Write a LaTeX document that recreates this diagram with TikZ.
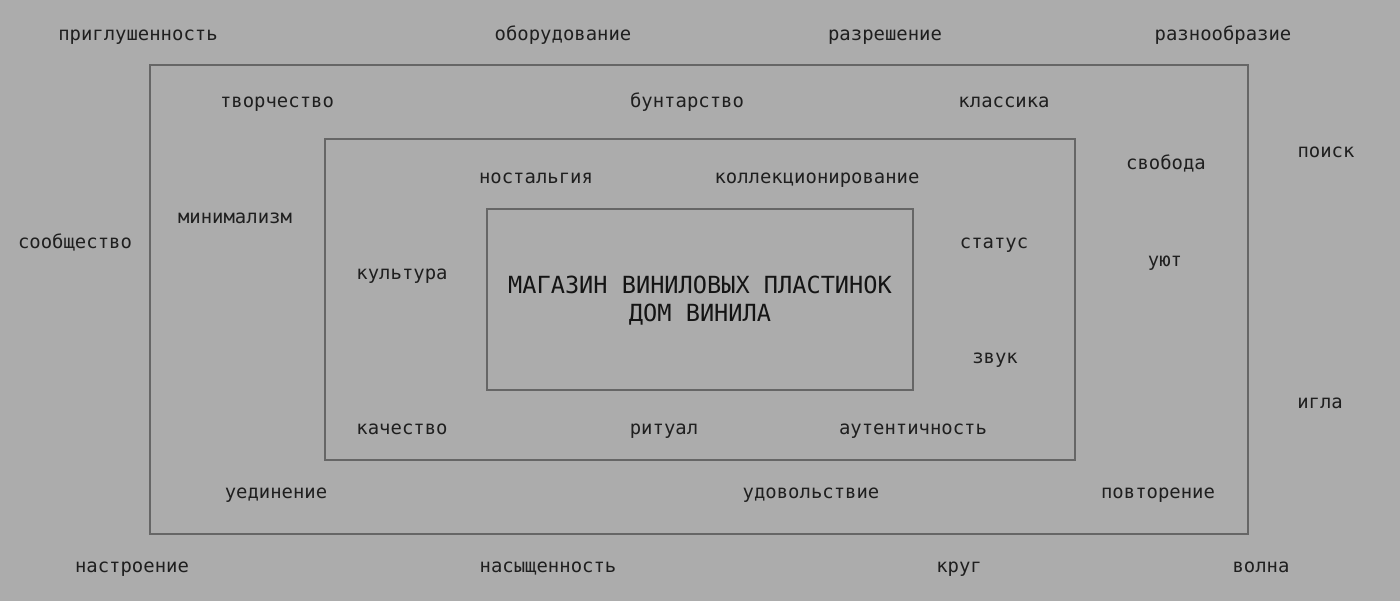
\documentclass[tikz,border=0pt]{standalone}
\usepackage{fontspec}
\setmonofont{DejaVu Sans Mono}
\begin{document}
\begin{tikzpicture}[x=1pt,y=-1pt,
  lbl/.style={font=\ttfamily\fontsize{18.9}{22}\selectfont, text=black!88, inner sep=0pt, anchor=base, yshift=-8pt},
  ttl/.style={font=\ttfamily\fontsize{23.6}{28}\selectfont, text=black!92, inner sep=0pt, anchor=base, align=center},
  frame/.style={draw=black!60, line width=1.2pt, fill=none}]
\definecolor{bg}{RGB}{172,172,172}
\fill[bg] (0,0) rectangle (1400,601);
\useasboundingbox (0,0) rectangle (1400,601);
\draw[frame] (150,65) rectangle (1248,534);
\draw[frame] (325,139) rectangle (1075,460);
\draw[frame] (487,209) rectangle (913,390);
\node[ttl] (title) at (700,322) {МАГАЗИН ВИНИЛОВЫХ ПЛАСТИНОК\\ДОМ ВИНИЛА};
\node[lbl] (a1) at (138,33) {приглушенность};
\node[lbl] (a2) at (563,33) {оборудование};
\node[lbl] (a3) at (885,33) {разрешение};
\node[lbl] (a4) at (1223,33) {разнообразие};
\node[lbl] (b1) at (277,100) {творчество};
\node[lbl] (b2) at (687,100) {бунтарство};
\node[lbl] (b3) at (1004,100) {классика};
\node[lbl] (c1) at (1326,150) {поиск};
\node[lbl] (c2) at (1166,162) {свобода};
\node[lbl] (d1) at (536,176) {ностальгия};
\node[lbl] (d2) at (817,176) {коллекционирование};
\node[lbl] (e1) at (235,216) {минимализм};
\node[lbl] (e2) at (75,241) {сообщество};
\node[lbl] (e3) at (994,241) {статус};
\node[lbl] (e4) at (1165,259) {уют};
\node[lbl] (f1) at (402,272) {культура};
\node[lbl] (g1) at (995,355) {звук};
\node[lbl] (g2) at (1320,401) {игла};
\node[lbl] (h1) at (402,426) {качество};
\node[lbl] (h2) at (664,426) {ритуал};
\node[lbl] (h3) at (913,426) {аутентичность};
\node[lbl] (i1) at (276,490) {уединение};
\node[lbl] (i2) at (811,490) {удовольствие};
\node[lbl] (i3) at (1158,490) {повторение};
\node[lbl] (j1) at (132,564) {настроение};
\node[lbl] (j2) at (548,564) {насыщенность};
\node[lbl] (j3) at (959,564) {круг};
\node[lbl] (j4) at (1261,564) {волна};
\end{tikzpicture}
\end{document}
